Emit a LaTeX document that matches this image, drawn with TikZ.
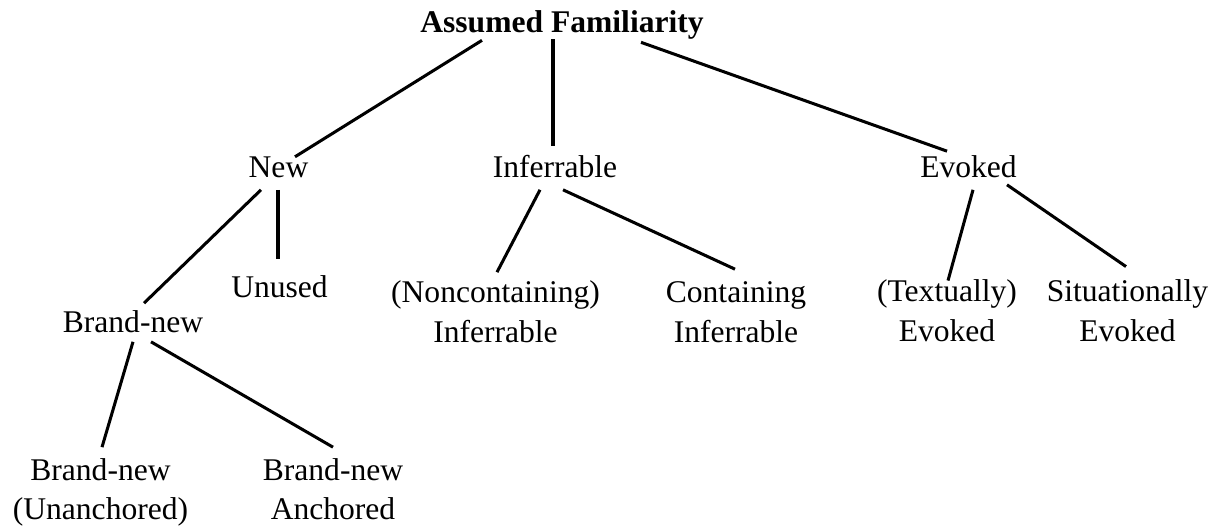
\documentclass[tikz,border=0pt]{standalone}
\usepackage{fontspec}
\setmainfont{Liberation Serif}
\usetikzlibrary{positioning, calc}

\begin{document}
\begin{tikzpicture}[x=0.38pt, y=-0.38pt, line width=1.15pt,
			cat/.style={inner sep=0pt, anchor=base, align=center,
				font=\fontsize{12}{15.2}\selectfont}]
			\useasboundingbox (0,0) rectangle (1214,527);

			\node[cat, font=\fontsize{12}{15.2}\selectfont\bfseries] (AF) at (562,33)  {Assumed Familiarity};
			\node[cat] (New)   at (278.5,178) {New};
			\node[cat] (Inf)   at (555,178)   {Inferrable};
			\node[cat] (Evk)   at (968.5,178) {Evoked};
			\node[cat] (Unu)   at (279.5,298) {Unused};
			\node[cat] (BN)    at (133,333)   {Brand-new};
			\node[cat] (BNU)   at (100.5,520) {Brand-new\\(Unanchored)};
			\node[cat] (BNA)   at (333,520)   {Brand-new\\Anchored};
			\node[cat] (NCI)   at (495.5,343) {(Noncontaining)\\Inferrable};
			\node[cat] (CI)    at (736,343)   {Containing\\Inferrable};
			\node[cat] (TE)    at (947,342)   {(Textually)\\Evoked};
			\node[cat] (SE)    at (1127.5,342) {Situationally\\Evoked};

			%Ramos: (pai) -- (filho)
			\draw ($(AF.south)+(-80,-1)$)  -- ($(New.north)+(16.5,1)$);
			\draw ($(AF.south)+(-9,-2)$)   -- ($(Inf.north)+(-2,-8.4)$);
			\draw ($(AF.south)+(79,1)$)    -- ($(Evk.north)+(-21.5,-3.4)$);
			\draw ($(New.south)+(-17.5,10)$) -- ($(BN.north)+(11,-6.4)$);
			\draw ($(New.south)+(-0.5,10)$)  -- ($(Unu.north)+(-1.5,-15.4)$);
			\draw ($(BN.south)+(0,7)$)     -- ($(BNU.north)+(1.5,-9.4)$);
			\draw ($(BN.south)+(18,7)$)    -- ($(BNA.north)+(0,-9.4)$);
			\draw ($(Inf.south)+(-15,10)$) -- ($(NCI.north)+(1.5,-7.4)$);
			\draw ($(Inf.south)+(8,10)$)   -- ($(CI.north)+(-1,-11.4)$);
			\draw ($(Evk.south)+(4.5,10)$) -- ($(TE.north)+(1,2)$);
			\draw ($(Evk.south)+(38.5,5)$) -- ($(SE.north)+(-1.5,-12)$);
		\end{tikzpicture}
\end{document}
